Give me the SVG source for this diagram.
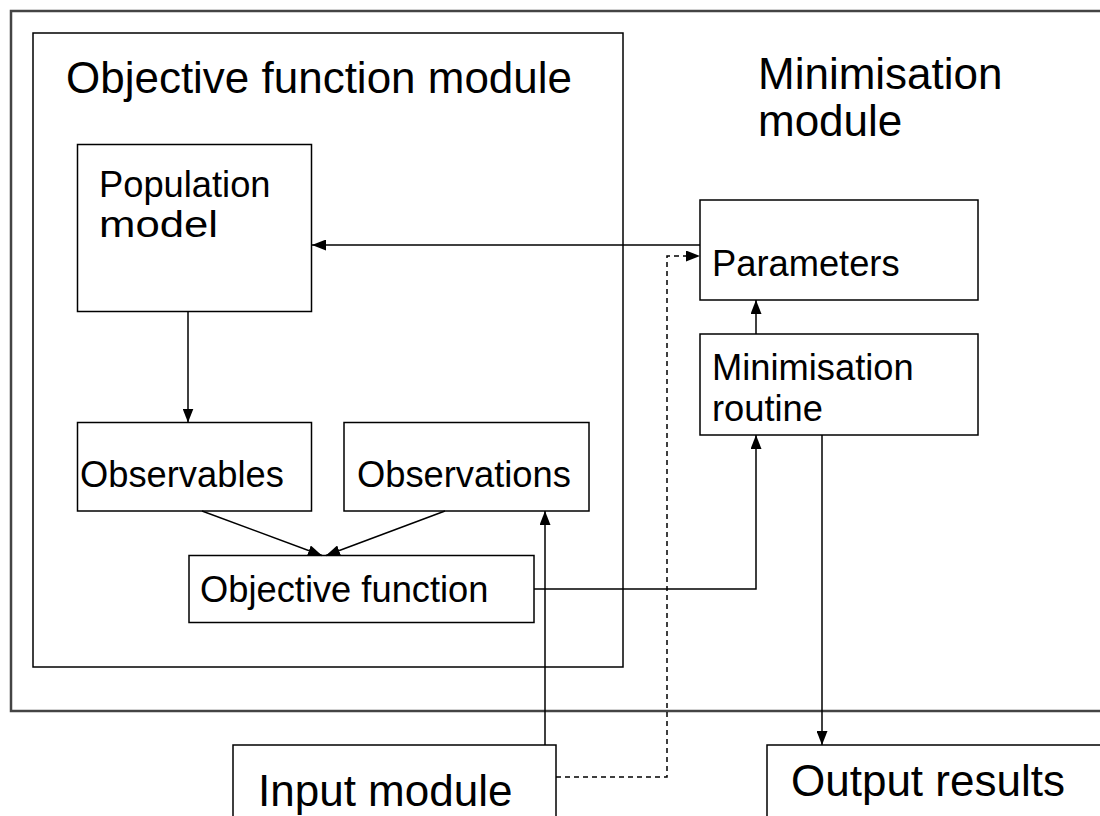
<svg xmlns="http://www.w3.org/2000/svg" width="1100" height="816" viewBox="0 0 1100 816">
<defs>
<marker id="ah" markerWidth="14" markerHeight="11" refX="14" refY="5.5" orient="auto" markerUnits="userSpaceOnUse">
<path d="M0,0 L14,5.5 L0,11 Z" fill="#000"/>
</marker>
<style>
.box{fill:#fff;stroke:#000;stroke-width:1.5}
.big{font-family:"Liberation Sans",Arial,sans-serif;font-size:44px;fill:#000}
.lbl{font-family:"Liberation Sans",Arial,sans-serif;font-size:36.5px;fill:#000}
.c{fill:none;stroke:#000;stroke-width:1.5}
.d{fill:none;stroke:#000;stroke-width:1.5;stroke-dasharray:5,4}
</style>
</defs>
<rect width="1100" height="816" fill="#fff"/>
<g id="minimisation-module">
<rect x="11" y="11" width="1110" height="700" fill="none" stroke="#444" stroke-width="2.5"/>
<text class="big" x="758" y="89" textLength="244.5" lengthAdjust="spacingAndGlyphs">Minimisation</text>
<text class="big" x="758" y="136" textLength="144.3" lengthAdjust="spacingAndGlyphs">module</text>
</g>
<g id="objective-function-module">
<rect class="box" x="33" y="33" width="590" height="634" fill="none"/>
<text class="big" x="66" y="93" textLength="506" lengthAdjust="spacingAndGlyphs">Objective function module</text>
</g>
<g id="population-model">
<rect class="box" x="77.5" y="144.5" width="234" height="167"/>
<text class="lbl" x="99" y="197" textLength="171.5" lengthAdjust="spacingAndGlyphs">Population</text>
<text class="lbl" x="99" y="237" textLength="119" lengthAdjust="spacingAndGlyphs">model</text>
</g>
<g id="observables">
<rect class="box" x="77.5" y="422.5" width="234" height="88.5"/>
<text class="lbl" x="80" y="487" textLength="203.8" lengthAdjust="spacingAndGlyphs">Observables</text>
</g>
<g id="observations">
<rect class="box" x="344" y="422.5" width="245" height="88.5"/>
<text class="lbl" x="357" y="487" textLength="213.9" lengthAdjust="spacingAndGlyphs">Observations</text>
</g>
<g id="objective-function">
<rect class="box" x="189" y="555.5" width="345" height="67"/>
<text class="lbl" x="200" y="602" textLength="288.5" lengthAdjust="spacingAndGlyphs">Objective function</text>
</g>
<g id="parameters">
<rect class="box" x="700" y="200" width="278" height="100"/>
<text class="lbl" x="712" y="276" textLength="187.6" lengthAdjust="spacingAndGlyphs">Parameters</text>
</g>
<g id="minimisation-routine">
<rect class="box" x="700" y="334" width="278" height="101"/>
<text class="lbl" x="712" y="380" textLength="201.7" lengthAdjust="spacingAndGlyphs">Minimisation</text>
<text class="lbl" x="712" y="421" textLength="111" lengthAdjust="spacingAndGlyphs">routine</text>
</g>
<g id="input-module">
<rect class="box" x="233" y="745" width="323" height="90"/>
<text class="big" x="258" y="806" textLength="254.4" lengthAdjust="spacingAndGlyphs">Input module</text>
</g>
<g id="output-results">
<rect class="box" x="767" y="745" width="360" height="90"/>
<text class="big" x="791" y="796" textLength="273.9" lengthAdjust="spacingAndGlyphs">Output results</text>
</g>
<g id="connectors">
<path class="c" d="M700,245 L312,245" marker-end="url(#ah)"/>
<path class="c" d="M188,312 L188,422.5" marker-end="url(#ah)"/>
<path class="c" d="M202,511 L322,555.5" marker-end="url(#ah)"/>
<path class="c" d="M445,511 L326,555.5" marker-end="url(#ah)"/>
<path class="c" d="M545,745 L545,511" marker-end="url(#ah)"/>
<path class="c" d="M534,589 L756,589 L756,435" marker-end="url(#ah)"/>
<path class="c" d="M756,334 L756,300" marker-end="url(#ah)"/>
<path class="c" d="M822,435 L822,745" marker-end="url(#ah)"/>
<path class="d" d="M556,777 L667,777 L667,256 L700,256" marker-end="url(#ah)"/>
</g>
</svg>
